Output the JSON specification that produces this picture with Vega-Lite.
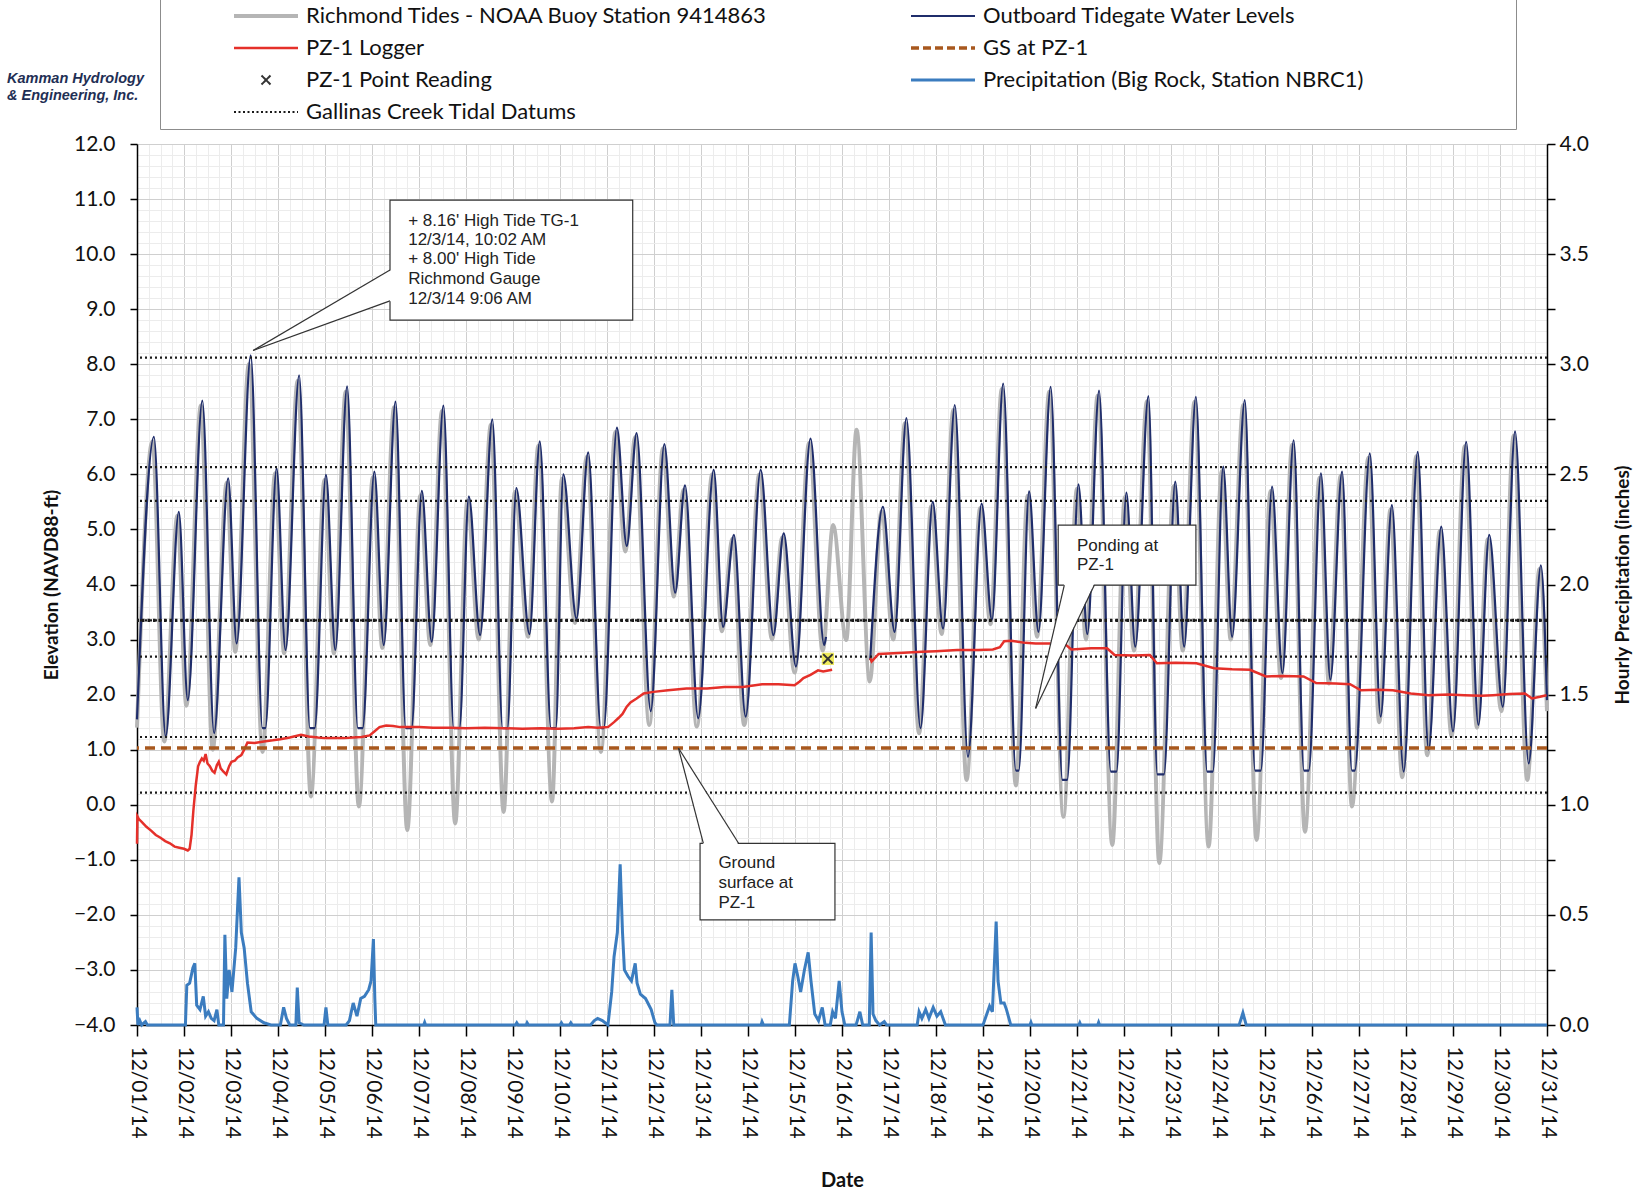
{
"$schema": "https://vega.github.io/schema/vega-lite/v6.json",
"autosize": {"type": "none"},
"width": 1410,
"height": 881,
"padding": {"left": 137, "top": 144, "right": 96, "bottom": 168},
"background": "white",
"config": {
  "view": {"stroke": null},
  "font": "Lato",
  "axis": {"labelFont": "Lato", "titleFont": "Lato", "labelColor": "#111", "titleColor": "#111"}
},
"title": {"text": ["Kamman Hydrology", "& Engineering, Inc."], "anchor": "start", "frame": "group", "orient": "top", "dx": -130, "offset": -105, "fontSize": 14.5, "font": "Liberation Sans", "fontStyle": "italic", "fontWeight": "bold", "color": "#1f2f55", "lineHeight": 17},
"datasets": {
"rich": [
{"d":1.00,"v":1.40},{"d":1.33,"v":6.60},{"d":1.58,"v":1.15},{"d":1.86,"v":5.25},{"d":2.05,"v":1.80},{"d":2.36,"v":7.25},{"d":2.61,"v":1.00},{"d":2.91,"v":5.85},{"d":3.09,"v":2.78},{"d":3.38,"v":8.00},{"d":3.67,"v":0.96},{"d":3.94,"v":6.02},{"d":4.13,"v":2.75},{"d":4.42,"v":7.70},{"d":4.70,"v":0.15},{"d":4.99,"v":5.90},{"d":5.19,"v":2.75},{"d":5.44,"v":7.50},{"d":5.72,"v":-0.03},{"d":6.02,"v":5.95},{"d":6.22,"v":2.85},{"d":6.47,"v":7.22},{"d":6.75,"v":-0.46},{"d":7.03,"v":5.62},{"d":7.24,"v":2.90},{"d":7.49,"v":7.15},{"d":7.77,"v":-0.34},{"d":8.03,"v":5.52},{"d":8.27,"v":3.00},{"d":8.53,"v":6.90},{"d":8.80,"v":-0.13},{"d":9.04,"v":5.68},{"d":9.32,"v":3.05},{"d":9.54,"v":6.52},{"d":9.83,"v":0.06},{"d":10.04,"v":5.92},{"d":10.32,"v":3.30},{"d":10.57,"v":6.32},{"d":10.87,"v":0.96},{"d":11.18,"v":6.77},{"d":11.39,"v":4.60},{"d":11.60,"v":6.68},{"d":11.90,"v":1.45},{"d":12.19,"v":6.47},{"d":12.42,"v":3.78},{"d":12.63,"v":5.72},{"d":12.91,"v":1.42},{"d":13.24,"v":6.00},{"d":13.44,"v":3.15},{"d":13.67,"v":4.83},{"d":13.92,"v":1.45},{"d":14.24,"v":6.00},{"d":14.51,"v":3.00},{"d":14.73,"v":4.86},{"d":14.99,"v":2.40},{"d":15.30,"v":6.57},{"d":15.59,"v":2.80},{"d":15.81,"v":5.08},{"d":16.09,"v":2.99},{"d":16.31,"v":6.81},{"d":16.59,"v":2.24},{"d":16.84,"v":5.33},{"d":17.09,"v":3.00},{"d":17.34,"v":6.93},{"d":17.64,"v":1.30},{"d":17.90,"v":5.42},{"d":18.12,"v":3.10},{"d":18.37,"v":7.17},{"d":18.65,"v":0.45},{"d":18.94,"v":5.39},{"d":19.16,"v":3.28},{"d":19.40,"v":7.55},{"d":19.70,"v":0.35},{"d":19.95,"v":5.61},{"d":20.15,"v":3.05},{"d":20.41,"v":7.50},{"d":20.71,"v":-0.22},{"d":21.00,"v":5.74},{"d":21.19,"v":3.00},{"d":21.44,"v":7.43},{"d":21.75,"v":-0.73},{"d":22.02,"v":5.59},{"d":22.21,"v":2.80},{"d":22.49,"v":7.33},{"d":22.75,"v":-1.06},{"d":23.06,"v":5.79},{"d":23.25,"v":2.80},{"d":23.50,"v":7.32},{"d":23.80,"v":-0.76},{"d":24.08,"v":6.06},{"d":24.27,"v":3.00},{"d":24.54,"v":7.26},{"d":24.82,"v":-0.64},{"d":25.12,"v":5.70},{"d":25.34,"v":2.30},{"d":25.58,"v":6.54},{"d":25.85,"v":-0.49},{"d":26.16,"v":5.94},{"d":26.36,"v":2.20},{"d":26.61,"v":5.97},{"d":26.85,"v":-0.03},{"d":27.20,"v":6.30},{"d":27.43,"v":1.50},{"d":27.67,"v":5.36},{"d":27.92,"v":0.50},{"d":28.22,"v":6.33},{"d":28.45,"v":0.90},{"d":28.72,"v":4.97},{"d":28.97,"v":1.25},{"d":29.25,"v":6.51},{"d":29.51,"v":1.40},{"d":29.74,"v":4.82},{"d":30.03,"v":1.70},{"d":30.29,"v":6.70},{"d":30.58,"v":0.45},{"d":30.84,"v":4.28},{"d":31.00,"v":1.70}
],
"tg": [
{"d":1.00,"v":1.55,"s":1},{"d":1.36,"v":6.68,"s":1},{"d":1.61,"v":1.24,"s":1},{"d":1.89,"v":5.32,"s":1},{"d":2.08,"v":1.90,"s":1},{"d":2.39,"v":7.34,"s":1},{"d":2.64,"v":1.30,"s":1},{"d":2.94,"v":5.93,"s":1},{"d":3.12,"v":2.93,"s":1},{"d":3.42,"v":8.16,"s":1},{"d":3.67,"v":1.39,"s":1},{"d":3.73,"v":1.39,"s":1},{"d":3.97,"v":6.11,"s":1},{"d":4.16,"v":2.81,"s":1},{"d":4.45,"v":7.80,"s":1},{"d":4.68,"v":1.39,"s":1},{"d":4.78,"v":1.39,"s":1},{"d":5.02,"v":5.99,"s":1},{"d":5.22,"v":2.81,"s":1},{"d":5.47,"v":7.60,"s":1},{"d":5.70,"v":1.39,"s":1},{"d":5.80,"v":1.39,"s":1},{"d":6.05,"v":6.05,"s":1},{"d":6.25,"v":2.90,"s":1},{"d":6.50,"v":7.32,"s":1},{"d":6.72,"v":1.39,"s":1},{"d":6.84,"v":1.39,"s":1},{"d":7.06,"v":5.70,"s":1},{"d":7.27,"v":2.96,"s":1},{"d":7.52,"v":7.25,"s":1},{"d":7.74,"v":1.39,"s":1},{"d":7.86,"v":1.39,"s":1},{"d":8.06,"v":5.60,"s":1},{"d":8.30,"v":3.08,"s":1},{"d":8.56,"v":7.00,"s":1},{"d":8.78,"v":1.39,"s":1},{"d":8.88,"v":1.39,"s":1},{"d":9.07,"v":5.75,"s":1},{"d":9.35,"v":3.10,"s":1},{"d":9.57,"v":6.60,"s":1},{"d":9.81,"v":1.39,"s":1},{"d":9.91,"v":1.39,"s":1},{"d":10.07,"v":6.00,"s":1},{"d":10.35,"v":3.38,"s":1},{"d":10.60,"v":6.40,"s":1},{"d":10.87,"v":1.39,"s":1},{"d":10.93,"v":1.39,"s":1},{"d":11.21,"v":6.85,"s":1},{"d":11.42,"v":4.70,"s":1},{"d":11.63,"v":6.75,"s":1},{"d":11.93,"v":1.70,"s":1},{"d":12.22,"v":6.55,"s":1},{"d":12.45,"v":3.85,"s":1},{"d":12.66,"v":5.80,"s":1},{"d":12.94,"v":1.57,"s":1},{"d":13.27,"v":6.08,"s":1},{"d":13.47,"v":3.23,"s":1},{"d":13.70,"v":4.90,"s":1},{"d":13.95,"v":1.60,"s":1},{"d":14.27,"v":6.08,"s":1},{"d":14.54,"v":3.08,"s":1},{"d":14.76,"v":4.93,"s":1},{"d":15.02,"v":2.51,"s":1},{"d":15.33,"v":6.65,"s":1},{"d":15.62,"v":2.90,"s":1},{"d":15.66,"v":3.05,"s":1},
{"d":16.60,"v":2.63,"s":2},{"d":16.87,"v":5.41,"s":2},{"d":17.12,"v":3.14,"s":2},{"d":17.37,"v":7.02,"s":2},{"d":17.67,"v":1.39,"s":2},{"d":17.93,"v":5.50,"s":2},{"d":18.15,"v":3.20,"s":2},{"d":18.40,"v":7.26,"s":2},{"d":18.68,"v":0.87,"s":2},{"d":18.97,"v":5.47,"s":2},{"d":19.19,"v":3.36,"s":2},{"d":19.43,"v":7.65,"s":2},{"d":19.70,"v":0.62,"s":2},{"d":19.76,"v":0.62,"s":2},{"d":19.98,"v":5.69,"s":2},{"d":20.18,"v":3.14,"s":2},{"d":20.44,"v":7.59,"s":2},{"d":20.69,"v":0.45,"s":2},{"d":20.79,"v":0.45,"s":2},{"d":21.03,"v":5.82,"s":2},{"d":21.22,"v":3.10,"s":2},{"d":21.47,"v":7.52,"s":2},{"d":21.72,"v":0.60,"s":2},{"d":21.84,"v":0.60,"s":2},{"d":22.05,"v":5.67,"s":2},{"d":22.24,"v":2.87,"s":2},{"d":22.52,"v":7.42,"s":2},{"d":22.71,"v":0.55,"s":2},{"d":22.85,"v":0.55,"s":2},{"d":23.09,"v":5.87,"s":2},{"d":23.28,"v":2.87,"s":2},{"d":23.53,"v":7.41,"s":2},{"d":23.77,"v":0.60,"s":2},{"d":23.89,"v":0.60,"s":2},{"d":24.11,"v":6.14,"s":2},{"d":24.30,"v":3.05,"s":2},{"d":24.57,"v":7.35,"s":2},{"d":24.79,"v":0.62,"s":2},{"d":24.91,"v":0.62,"s":2},{"d":25.15,"v":5.78,"s":2},{"d":25.37,"v":2.39,"s":2},{"d":25.61,"v":6.62,"s":2},{"d":25.83,"v":0.62,"s":2},{"d":25.93,"v":0.62,"s":2},{"d":26.19,"v":6.02,"s":2},{"d":26.39,"v":2.27,"s":2},{"d":26.64,"v":6.05,"s":2},{"d":26.85,"v":0.62,"s":2},{"d":26.91,"v":0.62,"s":2},{"d":27.23,"v":6.38,"s":2},{"d":27.46,"v":1.60,"s":2},{"d":27.70,"v":5.44,"s":2},{"d":27.95,"v":0.60,"s":2},{"d":28.25,"v":6.41,"s":2},{"d":28.48,"v":1.00,"s":2},{"d":28.75,"v":5.05,"s":2},{"d":29.00,"v":1.33,"s":2},{"d":29.28,"v":6.59,"s":2},{"d":29.54,"v":1.45,"s":2},{"d":29.77,"v":4.90,"s":2},{"d":30.06,"v":1.78,"s":2},{"d":30.32,"v":6.78,"s":2},{"d":30.61,"v":0.75,"s":2},{"d":30.87,"v":4.35,"s":2},{"d":31.00,"v":1.90,"s":2}
],
"pz": [
{"d":1.000,"v":-0.71,"s":1},{"d":1.008,"v":-0.21,"s":1},{"d":1.04,"v":-0.26,"s":1},{"d":1.10,"v":-0.31,"s":1},{"d":1.2,"v":-0.40,"s":1},{"d":1.3,"v":-0.47,"s":1},{"d":1.4,"v":-0.55,"s":1},{"d":1.5,"v":-0.60,"s":1},{"d":1.6,"v":-0.66,"s":1},{"d":1.7,"v":-0.70,"s":1},{"d":1.8,"v":-0.76,"s":1},{"d":1.9,"v":-0.78,"s":1},{"d":2.0,"v":-0.80,"s":1},{"d":2.08,"v":-0.83,"s":1},{"d":2.12,"v":-0.80,"s":1},{"d":2.16,"v":-0.55,"s":1},{"d":2.20,"v":-0.10,"s":1},{"d":2.25,"v":0.35,"s":1},{"d":2.30,"v":0.70,"s":1},{"d":2.34,"v":0.78,"s":1},{"d":2.38,"v":0.84,"s":1},{"d":2.42,"v":0.80,"s":1},{"d":2.46,"v":0.92,"s":1},{"d":2.50,"v":0.75,"s":1},{"d":2.55,"v":0.70,"s":1},{"d":2.60,"v":0.62,"s":1},{"d":2.65,"v":0.58,"s":1},{"d":2.70,"v":0.72,"s":1},{"d":2.74,"v":0.78,"s":1},{"d":2.78,"v":0.66,"s":1},{"d":2.84,"v":0.60,"s":1},{"d":2.90,"v":0.55,"s":1},{"d":2.96,"v":0.70,"s":1},{"d":3.01,"v":0.78,"s":1},{"d":3.08,"v":0.80,"s":1},{"d":3.14,"v":0.86,"s":1},{"d":3.22,"v":0.90,"s":1},{"d":3.28,"v":1.00,"s":1},{"d":3.35,"v":1.13,"s":1},{"d":3.5,"v":1.12,"s":1},{"d":3.7,"v":1.15,"s":1},{"d":3.89,"v":1.17,"s":1},{"d":4.05,"v":1.19,"s":1},{"d":4.25,"v":1.22,"s":1},{"d":4.49,"v":1.27,"s":1},{"d":4.65,"v":1.24,"s":1},{"d":4.85,"v":1.22,"s":1},{"d":5.0,"v":1.21,"s":1},{"d":5.2,"v":1.21,"s":1},{"d":5.4,"v":1.21,"s":1},{"d":5.6,"v":1.22,"s":1},{"d":5.78,"v":1.23,"s":1},{"d":5.95,"v":1.26,"s":1},{"d":6.05,"v":1.33,"s":1},{"d":6.16,"v":1.41,"s":1},{"d":6.3,"v":1.44,"s":1},{"d":6.45,"v":1.43,"s":1},{"d":6.6,"v":1.41,"s":1},{"d":6.8,"v":1.41,"s":1},{"d":7.0,"v":1.41,"s":1},{"d":7.3,"v":1.40,"s":1},{"d":7.68,"v":1.40,"s":1},{"d":8.0,"v":1.39,"s":1},{"d":8.4,"v":1.40,"s":1},{"d":8.8,"v":1.39,"s":1},{"d":9.2,"v":1.38,"s":1},{"d":9.6,"v":1.39,"s":1},{"d":9.96,"v":1.38,"s":1},{"d":10.3,"v":1.39,"s":1},{"d":10.6,"v":1.41,"s":1},{"d":10.8,"v":1.40,"s":1},{"d":11.02,"v":1.41,"s":1},{"d":11.15,"v":1.50,"s":1},{"d":11.25,"v":1.58,"s":1},{"d":11.33,"v":1.65,"s":1},{"d":11.42,"v":1.78,"s":1},{"d":11.50,"v":1.86,"s":1},{"d":11.63,"v":1.93,"s":1},{"d":11.78,"v":2.02,"s":1},{"d":11.99,"v":2.05,"s":1},{"d":12.3,"v":2.08,"s":1},{"d":12.69,"v":2.11,"s":1},{"d":13.13,"v":2.11,"s":1},{"d":13.5,"v":2.14,"s":1},{"d":13.89,"v":2.14,"s":1},{"d":14.3,"v":2.19,"s":1},{"d":14.65,"v":2.19,"s":1},{"d":14.99,"v":2.17,"s":1},{"d":15.10,"v":2.24,"s":1},{"d":15.18,"v":2.30,"s":1},{"d":15.33,"v":2.36,"s":1},{"d":15.49,"v":2.44,"s":1},{"d":15.6,"v":2.42,"s":1},{"d":15.79,"v":2.45,"s":1},
{"d":16.60,"v":2.66,"s":2},{"d":16.63,"v":2.60,"s":2},{"d":16.78,"v":2.74,"s":2},{"d":17.31,"v":2.76,"s":2},{"d":17.7,"v":2.78,"s":2},{"d":18.0,"v":2.79,"s":2},{"d":18.45,"v":2.81,"s":2},{"d":18.9,"v":2.81,"s":2},{"d":19.21,"v":2.82,"s":2},{"d":19.36,"v":2.86,"s":2},{"d":19.45,"v":2.97,"s":2},{"d":19.6,"v":2.98,"s":2},{"d":19.9,"v":2.94,"s":2},{"d":20.12,"v":2.93,"s":2},{"d":20.58,"v":2.93,"s":2},{"d":20.70,"v":2.95,"s":2},{"d":20.88,"v":2.82,"s":2},{"d":21.3,"v":2.84,"s":2},{"d":21.64,"v":2.84,"s":2},{"d":21.8,"v":2.72,"s":2},{"d":22.2,"v":2.71,"s":2},{"d":22.55,"v":2.72,"s":2},{"d":22.7,"v":2.57,"s":2},{"d":23.1,"v":2.58,"s":2},{"d":23.54,"v":2.57,"s":2},{"d":23.92,"v":2.48,"s":2},{"d":24.3,"v":2.46,"s":2},{"d":24.68,"v":2.45,"s":2},{"d":25.02,"v":2.33,"s":2},{"d":25.4,"v":2.34,"s":2},{"d":25.82,"v":2.33,"s":2},{"d":26.09,"v":2.21,"s":2},{"d":26.5,"v":2.20,"s":2},{"d":26.81,"v":2.19,"s":2},{"d":27.04,"v":2.08,"s":2},{"d":27.4,"v":2.09,"s":2},{"d":27.72,"v":2.08,"s":2},{"d":28.1,"v":2.02,"s":2},{"d":28.48,"v":1.99,"s":2},{"d":28.9,"v":2.00,"s":2},{"d":29.24,"v":1.99,"s":2},{"d":29.6,"v":1.98,"s":2},{"d":29.85,"v":1.99,"s":2},{"d":30.2,"v":2.01,"s":2},{"d":30.53,"v":2.02,"s":2},{"d":30.68,"v":1.93,"s":2},{"d":30.85,"v":1.96,"s":2},{"d":30.99,"v":1.99,"s":2}
],
"pt": [{"d":15.70,"v":2.65}],
"datums": [{"v":8.12},{"v":6.13},{"v":5.52},{"v":3.35},{"v":2.69},{"v":1.23},{"v":0.22}],
"gs": [{"v":1.03}],
"precip": [
{"d":1.00,"p":0.08},{"d":1.02,"p":0.0},{"d":1.06,"p":0.02},{"d":1.10,"p":0.0},{"d":1.18,"p":0.015},{"d":1.22,"p":0.0},
{"d":2.03,"p":0.0},{"d":2.06,"p":0.18},{"d":2.12,"p":0.19},{"d":2.19,"p":0.26},{"d":2.23,"p":0.28},{"d":2.27,"p":0.09},{"d":2.34,"p":0.07},{"d":2.41,"p":0.13},{"d":2.46,"p":0.04},{"d":2.52,"p":0.06},{"d":2.58,"p":0.03},{"d":2.64,"p":0.02},{"d":2.70,"p":0.07},{"d":2.74,"p":0.0},{"d":2.84,"p":0.0},{"d":2.87,"p":0.41},{"d":2.91,"p":0.12},{"d":2.96,"p":0.25},{"d":3.02,"p":0.15},{"d":3.10,"p":0.35},{"d":3.17,"p":0.67},{"d":3.22,"p":0.42},{"d":3.28,"p":0.35},{"d":3.35,"p":0.19},{"d":3.43,"p":0.06},{"d":3.55,"p":0.03},{"d":3.70,"p":0.01},{"d":3.85,"p":0.0},
{"d":4.05,"p":0.0},{"d":4.12,"p":0.08},{"d":4.18,"p":0.03},{"d":4.25,"p":0.0},{"d":4.38,"p":0.0},{"d":4.41,"p":0.17},{"d":4.45,"p":0.01},{"d":4.55,"p":0.0},
{"d":4.98,"p":0.0},{"d":5.02,"p":0.08},{"d":5.06,"p":0.0},{"d":5.45,"p":0.0},{"d":5.52,"p":0.02},{"d":5.60,"p":0.10},{"d":5.68,"p":0.04},{"d":5.76,"p":0.12},{"d":5.84,"p":0.13},{"d":5.93,"p":0.16},{"d":5.98,"p":0.20},{"d":6.03,"p":0.39},{"d":6.06,"p":0.12},{"d":6.08,"p":0.0},
{"d":7.10,"p":0.0},{"d":7.12,"p":0.012},{"d":7.14,"p":0.0},{"d":9.05,"p":0.0},{"d":9.08,"p":0.01},{"d":9.11,"p":0.0},{"d":9.28,"p":0.0},{"d":9.30,"p":0.01},{"d":9.33,"p":0.0},{"d":10.0,"p":0.0},{"d":10.03,"p":0.01},{"d":10.06,"p":0.0},{"d":10.2,"p":0.0},{"d":10.23,"p":0.01},{"d":10.26,"p":0.0},
{"d":10.65,"p":0.0},{"d":10.73,"p":0.02},{"d":10.80,"p":0.03},{"d":10.90,"p":0.02},{"d":11.02,"p":0.0},{"d":11.10,"p":0.15},{"d":11.15,"p":0.31},{"d":11.22,"p":0.42},{"d":11.28,"p":0.73},{"d":11.33,"p":0.42},{"d":11.37,"p":0.25},{"d":11.45,"p":0.22},{"d":11.52,"p":0.20},{"d":11.60,"p":0.28},{"d":11.64,"p":0.19},{"d":11.71,"p":0.14},{"d":11.82,"p":0.12},{"d":11.94,"p":0.07},{"d":12.02,"p":0.01},{"d":12.06,"p":0.0},{"d":12.34,"p":0.0},{"d":12.38,"p":0.16},{"d":12.42,"p":0.0},
{"d":14.28,"p":0.0},{"d":14.30,"p":0.015},{"d":14.33,"p":0.0},
{"d":14.88,"p":0.0},{"d":14.95,"p":0.20},{"d":15.00,"p":0.28},{"d":15.06,"p":0.22},{"d":15.12,"p":0.15},{"d":15.20,"p":0.25},{"d":15.28,"p":0.33},{"d":15.34,"p":0.20},{"d":15.42,"p":0.05},{"d":15.50,"p":0.02},{"d":15.58,"p":0.08},{"d":15.64,"p":0.0},{"d":15.75,"p":0.0},{"d":15.80,"p":0.06},{"d":15.86,"p":0.03},{"d":15.94,"p":0.20},{"d":16.00,"p":0.06},{"d":16.06,"p":0.0},{"d":16.30,"p":0.0},{"d":16.38,"p":0.06},{"d":16.44,"p":0.0},{"d":16.58,"p":0.0},{"d":16.62,"p":0.42},{"d":16.66,"p":0.05},{"d":16.72,"p":0.02},{"d":16.80,"p":0.0},{"d":16.90,"p":0.015},{"d":16.95,"p":0.0},
{"d":17.60,"p":0.0},{"d":17.64,"p":0.06},{"d":17.70,"p":0.03},{"d":17.78,"p":0.07},{"d":17.85,"p":0.03},{"d":17.94,"p":0.08},{"d":18.02,"p":0.04},{"d":18.10,"p":0.06},{"d":18.20,"p":0.0},
{"d":19.00,"p":0.0},{"d":19.14,"p":0.086},{"d":19.20,"p":0.06},{"d":19.28,"p":0.47},{"d":19.32,"p":0.20},{"d":19.38,"p":0.10},{"d":19.45,"p":0.10},{"d":19.50,"p":0.07},{"d":19.59,"p":0.0},
{"d":20.00,"p":0.0},{"d":20.02,"p":0.012},{"d":20.04,"p":0.0},{"d":21.04,"p":0.0},{"d":21.06,"p":0.01},{"d":21.08,"p":0.0},{"d":21.44,"p":0.0},{"d":21.46,"p":0.012},{"d":21.48,"p":0.0},
{"d":24.45,"p":0.0},{"d":24.53,"p":0.055},{"d":24.60,"p":0.0},{"d":31.00,"p":0.0}
],
"boxes": [
{"x1":6.383,"x2":11.547,"y1":8.80,"y2":10.98},
{"x1":20.60,"x2":23.53,"y1":3.99,"y2":5.08},
{"x1":12.98,"x2":15.85,"y1":-2.09,"y2":-0.70}
],
"wedgeV": [
{"wx":6.41,"wy":9.71,"wy2":9.15},
{"wx":3.47,"wy":8.25,"wy2":8.25}
],
"wedgeH": [
{"id":"a","wy":4.02,"wx":20.73,"wx2":21.37},
{"id":"a","wy":1.75,"wx":20.12,"wx2":20.12},
{"id":"b","wy":-0.73,"wx":13.05,"wx2":13.80},
{"id":"b","wy":1.03,"wx":12.52,"wx2":12.52}
],
"edges": [
{"x":6.383,"y":9.71,"x2":3.47,"y2":8.25},
{"x":6.383,"y":9.15,"x2":3.47,"y2":8.25},
{"x":20.73,"y":3.99,"x2":20.12,"y2":1.75},
{"x":21.37,"y":3.99,"x2":20.12,"y2":1.75},
{"x":13.05,"y":-0.70,"x2":12.52,"y2":1.03},
{"x":13.80,"y":-0.70,"x2":12.52,"y2":1.03}
],
"notes": [
{"x":6.77,"y":10.607,"t":"+ 8.16' High Tide TG-1"},
{"x":6.77,"y":10.256,"t":"12/3/14, 10:02 AM"},
{"x":6.77,"y":9.906,"t":"+ 8.00' High Tide"},
{"x":6.77,"y":9.543,"t":"Richmond Gauge"},
{"x":6.77,"y":9.19,"t":"12/3/14 9:06 AM"},
{"x":21.0,"y":4.70,"t":"Ponding at"},
{"x":21.0,"y":4.35,"t":"PZ-1"},
{"x":13.37,"y":-1.06,"t":"Ground"},
{"x":13.37,"y":-1.42,"t":"surface at"},
{"x":13.37,"y":-1.79,"t":"PZ-1"}
]
},
"layer": [
{
"data": {"name": "rich"},
"mark": {"type": "line", "interpolate": "monotone", "strokeWidth": 4},
"encoding": {
  "x": {"field": "d", "type": "quantitative", "scale": {"domain": [1, 31], "nice": false, "zero": false},
    "axis": {
      "values": [1,1.25,1.5,1.75,2,2.25,2.5,2.75,3,3.25,3.5,3.75,4,4.25,4.5,4.75,5,5.25,5.5,5.75,6,6.25,6.5,6.75,7,7.25,7.5,7.75,8,8.25,8.5,8.75,9,9.25,9.5,9.75,10,10.25,10.5,10.75,11,11.25,11.5,11.75,12,12.25,12.5,12.75,13,13.25,13.5,13.75,14,14.25,14.5,14.75,15,15.25,15.5,15.75,16,16.25,16.5,16.75,17,17.25,17.5,17.75,18,18.25,18.5,18.75,19,19.25,19.5,19.75,20,20.25,20.5,20.75,21,21.25,21.5,21.75,22,22.25,22.5,22.75,23,23.25,23.5,23.75,24,24.25,24.5,24.75,25,25.25,25.5,25.75,26,26.25,26.5,26.75,27,27.25,27.5,27.75,28,28.25,28.5,28.75,29,29.25,29.5,29.75,30,30.25,30.5,30.75,31],
      "labelExpr": "abs(datum.value - round(datum.value)) < 0.01 ? '12/' + (datum.value < 9.5 ? '0' : '') + round(datum.value) + '/14' : ''",
      "labelAngle": 90, "labelFontSize": 21, "labelPadding": 10, "labelOverlap": false, "labelFlush": false, "labelBound": false,
      "tickSize": 11, "tickWidth": 1.5,
      "tickColor": {"condition": {"test": "abs(datum.value - round(datum.value)) < 0.01", "value": "#000"}, "value": "transparent"},
      "grid": true, "gridWidth": 1,
      "gridColor": {"condition": {"test": "abs(datum.value - round(datum.value)) < 0.01", "value": "#cfcfcf"}, "value": "#ececec"},
      "domainColor": "#000", "domainWidth": 1.5,
      "title": "Date", "titleFontSize": 20, "titleFontWeight": "bold", "titlePadding": 32
    }},
  "y": {"field": "v", "type": "quantitative", "scale": {"domain": [-4, 12], "nice": false, "zero": false},
    "axis": {
      "values": [-4,-3.8,-3.6,-3.4,-3.2,-3,-2.8,-2.6,-2.4,-2.2,-2,-1.8,-1.6,-1.4,-1.2,-1,-0.8,-0.6,-0.4,-0.2,0,0.2,0.4,0.6,0.8,1,1.2,1.4,1.6,1.8,2,2.2,2.4,2.6,2.8,3,3.2,3.4,3.6,3.8,4,4.2,4.4,4.6,4.8,5,5.2,5.4,5.6,5.8,6,6.2,6.4,6.6,6.8,7,7.2,7.4,7.6,7.8,8,8.2,8.4,8.6,8.8,9,9.2,9.4,9.6,9.8,10,10.2,10.4,10.6,10.8,11,11.2,11.4,11.6,11.8,12],
      "labelExpr": "abs(datum.value - round(datum.value)) < 0.01 ? format(datum.value, '.1f') : ''",
      "labelFontSize": 21, "labelPadding": 15, "labelOverlap": false, "labelFlush": false, "labelBound": false,
      "tickSize": 7, "tickWidth": 1.5,
      "tickColor": {"condition": {"test": "abs(datum.value - round(datum.value)) < 0.01", "value": "#000"}, "value": "transparent"},
      "grid": true, "gridWidth": 1,
      "gridColor": {"condition": {"test": "abs(datum.value - round(datum.value)) < 0.01", "value": "#cfcfcf"}, "value": "#ececec"},
      "domainColor": "#000", "domainWidth": 1.5,
      "title": "Elevation (NAVD88-ft)", "titleFontSize": 19, "titleFontWeight": "bold", "titlePadding": 12
    }},
  "color": {"datum": "Richmond Tides - NOAA Buoy Station 9414863",
    "scale": {
      "domain": ["Richmond Tides - NOAA Buoy Station 9414863", "PZ-1 Logger", "PZ-1 Point Reading", "Gallinas Creek Tidal Datums", "Outboard Tidegate Water Levels", "GS at PZ-1", "Precipitation (Big Rock, Station NBRC1)"],
      "range": ["#b5b5b5", "#e5302a", "#333333", "#1a1a1a", "#1f2d6b", "#a8581e", "#3b7cbf"]
    },
    "legend": {
      "orient": "none", "legendX": 23, "legendY": -145,
      "columns": 2, "columnPadding": 136, "rowPadding": 10,
      "title": " ", "titleOrient": "left", "titlePadding": 67, "titleFontSize": 12,
      "symbolSize": 400, "symbolOffset": 22, "labelOffset": 29,
      "labelFont": "Lato", "labelFontSize": 22, "labelLimit": 1200, "labelColor": "#111",
      "labelExpr": "datum.label === 'Precipitation (Big Rock, Station NBRC1)' ? datum.label + '\u00a0\u00a0\u00a0\u00a0\u00a0\u00a0\u00a0\u00a0\u00a0\u00a0\u00a0\u00a0\u00a0\u00a0\u00a0\u00a0\u00a0\u00a0\u00a0\u00a0\u00a0\u00a0\u00a0\u00a0\u00a0\u00a0\u200b' : datum.label",
      "padding": 6, "strokeColor": "#8c8c8c", "fillColor": "white",
      "encode": {"symbols": {"update": {
        "shape": {"signal": "datum.value === 'PZ-1 Point Reading' ? 'M-0.45,-0.45L0.45,0.45M-0.45,0.45L0.45,-0.45' : 'M-3.2,0L3.2,0'"},
        "size": {"value": 400},
        "fill": {"value": "transparent"},
        "stroke": {"scale": "color", "field": "value"},
        "strokeWidth": {"signal": "datum.value === 'Richmond Tides - NOAA Buoy Station 9414863' ? 4 : datum.value === 'GS at PZ-1' ? 3.5 : datum.value === 'Precipitation (Big Rock, Station NBRC1)' ? 3 : datum.value === 'PZ-1 Logger' ? 2.5 : 2"},
        "strokeDash": {"signal": "datum.value === 'GS at PZ-1' ? [8,4] : datum.value === 'Gallinas Creek Tidal Datums' ? [2,2.5] : [1,0]"},
        "opacity": {"value": 1}
      }}}
    }}
}
},
{
"data": {"name": "tg"},
"mark": {"type": "line", "interpolate": "monotone", "strokeWidth": 2.2},
"encoding": {
  "x": {"field": "d", "type": "quantitative", "axis": null},
  "y": {"field": "v", "type": "quantitative", "scale": {"domain": [-4, 12], "nice": false, "zero": false}, "axis": null},
  "detail": {"field": "s"},
  "color": {"datum": "Outboard Tidegate Water Levels"}
}
},
{
"data": {"name": "datums"},
"mark": {"type": "rule", "strokeDash": [2, 3], "strokeWidth": 2.2},
"encoding": {
  "y": {"field": "v", "type": "quantitative", "scale": {"domain": [-4, 12], "nice": false, "zero": false}, "axis": null},
  "color": {"datum": "Gallinas Creek Tidal Datums"}
}
},
{
"data": {"name": "datums"},
"transform": [{"filter": "datum.v === 3.35"}],
"mark": {"type": "rule", "strokeDash": [2.5, 3], "strokeWidth": 3.2},
"encoding": {
  "y": {"field": "v", "type": "quantitative", "scale": {"domain": [-4, 12], "nice": false, "zero": false}, "axis": null},
  "color": {"datum": "Gallinas Creek Tidal Datums"}
}
},
{
"data": {"name": "pz"},
"mark": {"type": "line", "strokeWidth": 2.5},
"encoding": {
  "x": {"field": "d", "type": "quantitative", "axis": null},
  "y": {"field": "v", "type": "quantitative", "scale": {"domain": [-4, 12], "nice": false, "zero": false}, "axis": null},
  "detail": {"field": "s"},
  "color": {"datum": "PZ-1 Logger"}
}
},
{
"data": {"name": "gs"},
"mark": {"type": "rule", "strokeDash": [10, 6], "strokeWidth": 3.5},
"encoding": {
  "y": {"field": "v", "type": "quantitative", "scale": {"domain": [-4, 12], "nice": false, "zero": false}, "axis": null},
  "color": {"datum": "GS at PZ-1"}
}
},
{
"data": {"name": "pt"},
"mark": {"type": "point", "shape": "square", "size": 150, "filled": true, "fill": "#eeea5c", "opacity": 1, "strokeWidth": 0},
"encoding": {
  "x": {"field": "d", "type": "quantitative", "axis": null},
  "y": {"field": "v", "type": "quantitative", "scale": {"domain": [-4, 12], "nice": false, "zero": false}, "axis": null}
}
},
{
"data": {"name": "pt"},
"mark": {"type": "point", "shape": "M-1,-1L1,1M-1,1L1,-1", "size": 90, "filled": false, "opacity": 1, "strokeWidth": 2},
"encoding": {
  "x": {"field": "d", "type": "quantitative", "axis": null},
  "y": {"field": "v", "type": "quantitative", "scale": {"domain": [-4, 12], "nice": false, "zero": false}, "axis": null},
  "color": {"datum": "PZ-1 Point Reading"}
}
},
{
"data": {"name": "boxes"},
"mark": {"type": "rect", "fill": "white", "stroke": "#333", "strokeWidth": 1.2, "opacity": 1},
"encoding": {
  "x": {"field": "x1", "type": "quantitative", "axis": null},
  "x2": {"field": "x2"},
  "y": {"field": "y1", "type": "quantitative", "scale": {"domain": [-4, 12], "nice": false, "zero": false}, "axis": null},
  "y2": {"field": "y2"}
}
},
{
"data": {"name": "wedgeV"},
"mark": {"type": "area", "orient": "vertical", "fill": "white", "opacity": 1, "fillOpacity": 1},
"encoding": {
  "x": {"field": "wx", "type": "quantitative", "axis": null},
  "y": {"field": "wy", "type": "quantitative", "scale": {"domain": [-4, 12], "nice": false, "zero": false}, "axis": null},
  "y2": {"field": "wy2"}
}
},
{
"data": {"name": "wedgeH"},
"mark": {"type": "area", "orient": "horizontal", "fill": "white", "opacity": 1, "fillOpacity": 1},
"encoding": {
  "y": {"field": "wy", "type": "quantitative", "scale": {"domain": [-4, 12], "nice": false, "zero": false}, "axis": null},
  "x": {"field": "wx", "type": "quantitative", "axis": null},
  "x2": {"field": "wx2"},
  "detail": {"field": "id"}
}
},
{
"data": {"name": "edges"},
"mark": {"type": "rule", "stroke": "#333", "strokeWidth": 1.2},
"encoding": {
  "x": {"field": "x", "type": "quantitative", "axis": null},
  "y": {"field": "y", "type": "quantitative", "scale": {"domain": [-4, 12], "nice": false, "zero": false}, "axis": null},
  "x2": {"field": "x2"},
  "y2": {"field": "y2"}
}
},
{
"data": {"name": "notes"},
"mark": {"type": "text", "align": "left", "baseline": "middle", "font": "Liberation Sans", "fontSize": 17, "color": "#222"},
"encoding": {
  "x": {"field": "x", "type": "quantitative", "axis": null},
  "y": {"field": "y", "type": "quantitative", "scale": {"domain": [-4, 12], "nice": false, "zero": false}, "axis": null},
  "text": {"field": "t"}
}
},
{
"data": {"name": "precip"},
"mark": {"type": "line", "strokeWidth": 3},
"encoding": {
  "x": {"field": "d", "type": "quantitative", "axis": null},
  "y": {"field": "p", "type": "quantitative", "scale": {"domain": [0, 4], "nice": false, "zero": false},
    "axis": {
      "orient": "right",
      "values": [0,0.25,0.5,0.75,1,1.25,1.5,1.75,2,2.25,2.5,2.75,3,3.25,3.5,3.75,4],
      "labelExpr": "abs(datum.value*2 - round(datum.value*2)) < 0.01 ? format(datum.value, '.1f') : ''",
      "labelFontSize": 21, "labelPadding": 4, "labelOverlap": false, "labelFlush": false, "labelBound": false,
      "tickSize": 8, "tickWidth": 1.5, "tickColor": "#000",
      "grid": false, "domainColor": "#000", "domainWidth": 1.5,
      "title": "Hourly Precipitation (inches)", "titleAngle": 270, "titleBaseline": "top", "titleFontSize": 19, "titleFontWeight": "bold", "titlePadding": 25
    }},
  "color": {"datum": "Precipitation (Big Rock, Station NBRC1)"}
}
}
],
"resolve": {"scale": {"y": "independent"}, "axis": {"x": "independent"}}
}
